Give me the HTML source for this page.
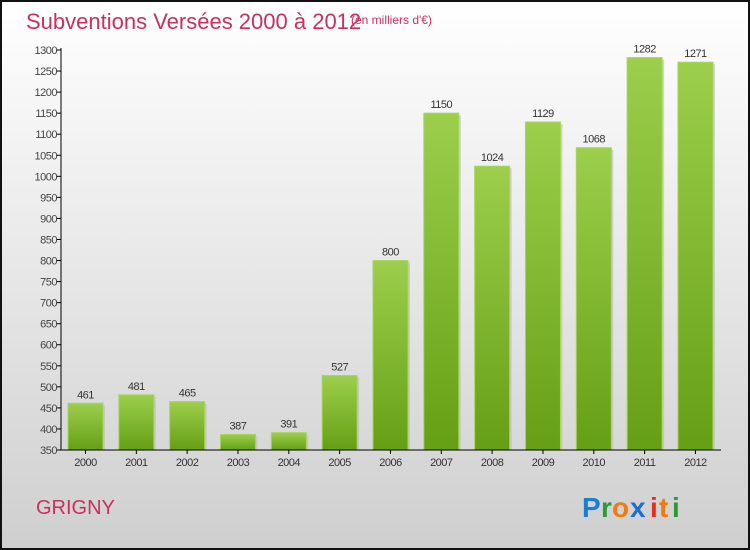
<!DOCTYPE html>
<html><head><meta charset="utf-8"><style>
body{margin:0;width:750px;height:550px;overflow:hidden}
svg{display:block;font-family:"Liberation Sans",sans-serif}
</style></head><body>
<svg id="c" width="750" height="550">
<defs>
<linearGradient id="bg" x1="0" y1="0" x2="0" y2="1"><stop offset="0" stop-color="#ffffff"/><stop offset="1" stop-color="#cfcfcf"/></linearGradient>
<linearGradient id="bar" x1="0" y1="0" x2="0" y2="1"><stop offset="0" stop-color="#9ccf4c"/><stop offset="1" stop-color="#659f15"/></linearGradient>
</defs>
<rect x="1" y="1" width="748" height="548" fill="url(#bg)" stroke="#111" stroke-width="2"/>
<text x="26" y="29" font-size="22" fill="#c8305e">Subventions Versées 2000 à 2012</text>
<text x="351" y="24" font-size="12" fill="#c8305e">(en milliers d'€)</text>
<text x="36" y="514" font-size="20" fill="#c8305e">GRIGNY</text>
<g font-size="28" font-weight="bold" font-family="Liberation Sans, sans-serif">
<text x="582" y="517" fill="#1a7fd4">P</text><text x="601" y="517" fill="#2a9a3a">r</text><text x="612" y="517" fill="#f07c10">o</text><text x="630" y="517" fill="#1a6fd0">x</text><text x="650" y="517" fill="#e03020">i</text><text x="659" y="517" fill="#f07c10">t</text><text x="672" y="517" fill="#2a9a3a">i</text>
</g>
<g id="plot"></g>
</svg>
<script>
const years=["2000","2001","2002","2003","2004","2005","2006","2007","2008","2009","2010","2011","2012"];
const values=[461,481,465,387,391,527,800,1150,1024,1129,1068,1282,1271];
const yTicks=[350,400,450,500,550,600,650,700,750,800,850,900,950,1000,1050,1100,1150,1200,1250,1300];
const NS="http://www.w3.org/2000/svg";
const g=document.getElementById('plot');
const y=v=>450-(v-350)*400/950;
const x=i=>68+i*50.83;
function mk(t,a){const e=document.createElementNS(NS,t);for(const k in a)e.setAttribute(k,a[k]);g.appendChild(e);return e;}
yTicks.forEach(v=>{
 const l=mk('line',{x1:57,x2:61,y1:y(v),y2:y(v),stroke:'#000'});
 
 
 const t=mk('text',{x:57,y:y(v)+4,'text-anchor':'end','font-size':11,fill:'#444','letter-spacing':'-0.5'});
 t.textContent=v;
 
 
});
values.forEach((v,i)=>{
 const r=mk('rect',{x:x(i)+2,y:y(v)+2,width:35,height:450-y(v)-2,fill:'#bbb',opacity:0.6});
 
 
 const b=mk('rect',{x:x(i),y:y(v),width:35,height:450-y(v),fill:'url(#bar)',stroke:'#a6d65a','stroke-width':1});
 
 
 const t=mk('text',{x:x(i)+17.5,y:y(v)-5,'text-anchor':'middle','font-size':11,fill:'#333','letter-spacing':'-0.5'});
 t.textContent=v;
 
 
 const tk=mk('line',{x1:x(i)+17.5,x2:x(i)+17.5,y1:450,y2:454,stroke:'#000'});
 
 
 const xl=mk('text',{x:x(i)+17.5,y:466,'text-anchor':'middle','font-size':11,fill:'#333','letter-spacing':'-0.5'});
 xl.textContent=years[i];
 
 
});
const ya=mk('line',{x1:61,x2:61,y1:48,y2:450,stroke:'#000'});


const xa=mk('line',{x1:61,x2:721,y1:450,y2:450,stroke:'#000'});


</script>
</body></html>
